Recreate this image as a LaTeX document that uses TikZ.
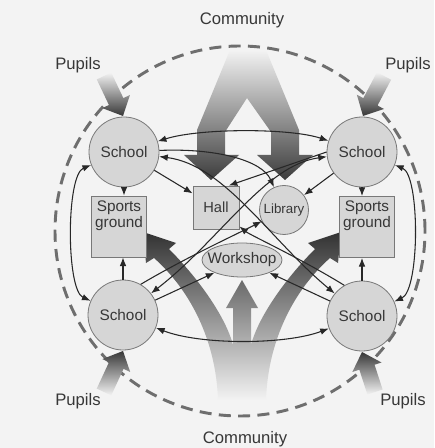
\documentclass[tikz,border=0pt]{standalone}
\usepackage{fontspec}
\setmainfont{Liberation Sans}
\usetikzlibrary{arrows.meta,calc,shapes.geometric}
\definecolor{bgc}{RGB}{243,243,243}
\definecolor{nodefill}{RGB}{214,214,214}
\definecolor{nodeline}{RGB}{120,120,120}
\definecolor{ink}{RGB}{40,40,40}
\definecolor{txt}{RGB}{55,55,55}
\definecolor{dashc}{RGB}{110,110,110}
\definecolor{darkg}{RGB}{55,55,55}
\definecolor{midg}{RGB}{135,135,135}
\definecolor{lamdark}{RGB}{60,60,60}
\definecolor{tridark}{RGB}{50,50,50}
\definecolor{trimid}{RGB}{125,125,125}
\tikzset{
  school/.style={circle, draw=nodeline, fill=nodefill, line width=0.6pt, minimum size=52.5pt, inner sep=0pt, font=\fontsize{11.5}{13}\selectfont, text=txt},
  boxnode/.style={rectangle, draw=nodeline, fill=nodefill, line width=0.6pt, inner sep=0pt},
  conn/.style={draw=ink, line width=0.8pt, -{Latex[length=6.5pt,width=5pt]}},
  conn2/.style={draw=ink, line width=0.8pt, {Latex[length=6.5pt,width=5pt]}-{Latex[length=6.5pt,width=5pt]}},
  lbl/.style={text=txt, font=\fontsize{11.5}{12}\selectfont, inner sep=0pt, align=center},
  biglbl/.style={text=txt, font=\fontsize{12.5}{14}\selectfont, inner sep=0pt},
}
\newcommand{\pupilarrow}[4]{%
  \coordinate (#1T) at #2;
  \coordinate (#1P) at #3;
  \coordinate (#1B) at ($(#1P)!12pt!(#1T)$);
  \shade[#4] ($(#1T)!6pt!90:(#1P)$) -- ($(#1B)!6pt!90:(#1P)$) -- ($(#1B)!11.5pt!90:(#1P)$) -- (#1P) -- ($(#1B)!11.5pt!-90:(#1P)$) -- ($(#1B)!6pt!-90:(#1P)$) -- ($(#1T)!6pt!-90:(#1P)$) -- cycle;
}
\begin{document}
\begin{tikzpicture}[x=0.75pt,y=-0.75pt]
\useasboundingbox (0,0) rectangle (434,448);
\fill[bgc] (0,0) rectangle (434,448);

% big community arrows
\shade[top color=bgc, middle color=midg, bottom color=lamdark]
 (197,130) -- (197,155) -- (184,155) -- (211,180) -- (239,155) -- (225,155) -- (225,132) -- (247,98) -- (271,132) -- (271,155) -- (257,155) -- (285,180) -- (313,155) -- (299,155) -- (299,130) -- (266,50) -- (230,50) -- cycle;
\shade[top color=tridark, middle color=trimid, bottom color=bgc]
 (218,400) .. controls (216,340) and (190,290) .. (154,258) -- (146,263) -- (143,232) -- (176,243) -- (169,249) .. controls (200,280) and (226,318) .. (233,345) -- (233,308) -- (226,308) -- (242,280) -- (258,308) -- (251,308) -- (251,345) .. controls (258,318) and (284,280) .. (315,249) -- (308,243) -- (341,232) -- (338,263) -- (330,258) .. controls (294,290) and (268,340) .. (266,400) -- cycle;

% dashed community boundary
\draw[dashc, line width=2.2pt, dash pattern=on 9pt off 5.5pt] (240,231) circle[radius=138.75pt];

% pupils arrows
\pupilarrow{pa}{(104,76)}{(123,116)}{top color=bgc, bottom color=darkg}
\pupilarrow{pb}{(384,76)}{(363,116)}{top color=bgc, bottom color=darkg}
\pupilarrow{pc}{(104,392)}{(123,351)}{top color=darkg, bottom color=bgc}
\pupilarrow{pd}{(375,392)}{(362,352)}{top color=darkg, bottom color=bgc}

% nodes
\node[school] (TL) at (124,152) {School};
\node[school] (TR) at (362,152) {School};
\node[school] (BL) at (123,315) {School};
\node[school] (BR) at (362,316) {School};
\node[boxnode, minimum width=41pt, minimum height=45.75pt] (SGL) at (119,226.5) {};
\node[boxnode, minimum width=41pt, minimum height=45.75pt] (SGR) at (367,227) {};
\node[lbl, anchor=north] (SGLt) at ([yshift=-3.5pt]SGL.north) {Sports\\ground};
\node[lbl, anchor=north] (SGRt) at ([yshift=-3.5pt]SGR.north) {Sports\\ground};
\node[boxnode, minimum width=34.5pt, minimum height=32.25pt, font=\fontsize{11}{12}\selectfont, text=txt] (Hall) at (216,207.5) {Hall};
\node[circle, draw=nodeline, fill=nodefill, line width=0.6pt, minimum size=36.75pt, inner sep=0pt, font=\fontsize{10}{12}\selectfont, text=txt] (Lib) at (284,210) {Library};
\node[ellipse, draw=nodeline, fill=nodefill, line width=0.6pt, minimum width=60pt, minimum height=25.5pt, inner sep=0pt] (Work) at (242,260) {};
\node[lbl] (WorkT) at (Work) {Workshop};

% connectors
\draw[conn2] (TL) .. controls (200,128) and (290,128) .. (TR);
\draw[conn2] (BL) .. controls (200,345) and (285,345) .. (BR);
\draw[conn2] (TL) .. controls (66,175) and (66,290) .. (BL);
\draw[conn2] (TR) .. controls (420,175) and (420,290) .. (BR);
\draw[conn2] (TL) .. controls (225,165) and (270,240) .. (BR);
\draw[conn2] (TR) .. controls (265,165) and (220,240) .. (BL);
\draw[conn] (TL) .. controls (215,148) and (262,160) .. (Lib);
\draw[conn] (TL) -- (Hall);
\draw[conn] (TR.west) -- (Hall.60);
\draw[conn] (TR) -- (Lib);
\draw[conn] (BL.60) .. controls (185,258) and (235,235) .. (Lib);
\draw[conn] (BR.120) .. controls (300,258) and (250,235) .. (Hall);
\draw[conn] (BL) -- (Work);
\draw[conn] (BR) -- (Work);
\draw[conn] (TL.south) -- (TL.south |- SGL.north);
\draw[conn] (TR.south) -- (TR.south |- SGR.north);
\draw[conn] (BL.north) -- (BL.north |- SGL.south);
\draw[conn] (BR.north) -- (BR.north |- SGR.south);

% labels
\node[biglbl] (C1) at (242,20) {Community};
\node[biglbl] (P1) at (78,65) {Pupils};
\node[biglbl] (P2) at (408,65) {Pupils};
\node[biglbl] (P3) at (78,401) {Pupils};
\node[biglbl] (P4) at (403,401) {Pupils};
\node[biglbl] (C2) at (245,439) {Community};
\end{tikzpicture}
\end{document}
